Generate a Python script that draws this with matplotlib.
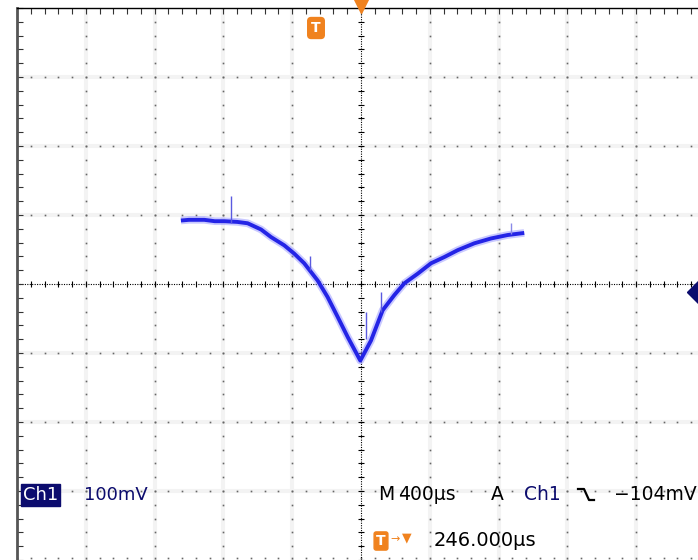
import numpy as np
import matplotlib.pyplot as plt
from matplotlib.lines import Line2D

# 파형 데이터 (시간 µs, 전압 mV) - 화면에서 읽은 값
t_trace = [-1047, -1000, -911, -850, -795, -720, -659, -581, -523, -446, -388, -330,
           -252, -194, -135, -77, -4, 58, 126, 194, 252, 330, 407, 484, 562, 659,
           756, 853, 949]
v_trace = [92, 93, 93, 91, 91, 90, 88, 79, 68, 56, 44, 30,
           5, -19, -48, -77, -111, -82, -38, -16, 1, 15, 30, 39, 49, 59,
           66, 71, 74]

# 노이즈 스파이크 (시간, 위, 아래)
spike_t = [-756, -297, 29, 116]
spike_top = [128, 41, -41, -11]
spike_bottom = [88, 20, -80, -41]
spike2_t = [872]
spike2_top = [89]
spike2_bottom = [72]

# 화면 설정
sec_per_div = 400   # µs
volt_per_div = 100  # mV
ch_label = 'Ch1'
scale_label = '100mV'
time_label = '400µs'
trig_level = '\u2212104mV'
trig_pos = '246.000µs'

orange = '#f0821e'
navy = '#0c0c6e'
blue = '#2424e6'

W, H = 698, 560
fig = plt.figure(figsize=(W / 100, H / 100), dpi=100)

# 화면 영역 (픽셀 기준: 왼쪽 17, 위 8, 한 칸 68.8 x 69)
left, top = 17, 8
ax = fig.add_axes([left / W, 0, 688 / W, (H - top) / H])
ax.set_xlim(-5 * sec_per_div, 5 * sec_per_div)
ax.set_ylim(-4 * volt_per_div, 4 * volt_per_div)
ax.set_facecolor('white')

# 눈금선 (점선)
xs_minor = np.arange(-5 * sec_per_div, 5 * sec_per_div + 1, sec_per_div / 5)
ys_minor = np.arange(-4 * volt_per_div, 4 * volt_per_div + 1, volt_per_div / 5)
for k in range(-4, 5):
    if k == 0:
        continue
    x = k * sec_per_div
    ax.axvline(x, color='#f3f3f3', lw=3, zorder=0)
    ax.plot(np.full_like(ys_minor, x), ys_minor, ls='none', marker='s', ms=1.2,
            color='#666666', mew=0, zorder=1)
for k in range(-3, 4):
    if k == 0:
        continue
    y = k * volt_per_div
    ax.axhline(y, color='#f3f3f3', lw=3, zorder=0)
    ax.plot(xs_minor, np.full_like(xs_minor, y), ls='none', marker='s', ms=1.2,
            color='#666666', mew=0, zorder=1)
# 아래쪽 경계 점
ax.plot(xs_minor, np.full_like(xs_minor, -4 * volt_per_div + 3), ls='none',
        marker='s', ms=1.2, color='#666666', mew=0, zorder=1)

# 중심축
ax.axhline(0, color='black', lw=0.8, ls=(0, (1, 1.2)), zorder=1)
ax.axvline(0, color='black', lw=0.8, ls=(0, (1, 1.2)), zorder=1)
ax.plot(xs_minor, np.zeros_like(xs_minor), ls='none', marker='|', ms=5,
        mew=0.8, color='black', zorder=1)
ax.plot(np.zeros_like(ys_minor), ys_minor, ls='none', marker='_', ms=5,
        mew=0.8, color='black', zorder=1)

# 테두리
for s in ['right', 'bottom']:
    ax.spines[s].set_visible(False)
ax.spines['top'].set_linestyle((0, (1, 1)))
ax.spines['top'].set_linewidth(1)
ax.spines['left'].set_color('#555555')
ax.spines['left'].set_linewidth(2)
ax.set_xticks(xs_minor)
ax.set_yticks(ys_minor)
ax.tick_params(axis='both', direction='in', length=4, width=0.8, color='#333333',
               labelbottom=False, labelleft=False, bottom=False, top=True,
               left=True, right=False)

# 파형
ax.plot(t_trace, v_trace, color='#8888ff', lw=5.5, alpha=0.45,
        solid_capstyle='butt', zorder=3)
ax.plot(t_trace, v_trace, color=blue, lw=2.8, solid_capstyle='butt', zorder=4)
ax.vlines(spike_t, spike_bottom, spike_top, color='#5a5ae0', lw=1, zorder=4)
ax.vlines(spike2_t, spike2_bottom, spike2_top, color='#8a8ae8', lw=1, zorder=4)

# 마커: 위쪽 확장점, 오른쪽 트리거 레벨
ax.plot([0], [4 * volt_per_div + 3], marker='v', ms=10, color=orange,
        clip_on=False, zorder=6)
ax.plot([1971], [-12], marker='D', ms=13, color=navy, clip_on=False, zorder=6)


def px(x, y):
    return x / W, 1 - y / H


# 위쪽 트리거 위치 아이콘
fig.text(*px(316, 28), 'T', color='white', fontsize=10, fontweight='bold',
         ha='center', va='center',
         bbox=dict(boxstyle='round,pad=0.25', fc=orange, ec=orange))

# 아래쪽 상태 표시
fig.text(*px(23, 495), ch_label, color='white', fontsize=13, ha='left', va='center',
         bbox=dict(boxstyle='square,pad=0.12', fc=navy, ec=navy))
fig.text(*px(84, 495), scale_label, color=navy, fontsize=13, ha='left', va='center')

fig.text(*px(378, 495), 'M', color='black', fontsize=13.5, ha='left', va='center')
fig.text(*px(398, 495), time_label, color='black', fontsize=13.5, ha='left', va='center')
fig.text(*px(491, 495), 'A', color='black', fontsize=13.5, ha='left', va='center')
fig.text(*px(524, 495), ch_label, color=navy, fontsize=13.5, ha='left', va='center')
edge = Line2D([578 / W, 584 / W, 589 / W, 594 / W],
              [1 - 489 / H, 1 - 489 / H, 1 - 500 / H, 1 - 500 / H],
              color='black', lw=1.6, transform=fig.transFigure)
fig.add_artist(edge)
fig.text(*px(697, 495), trig_level, color='black', fontsize=13.5, ha='right', va='center')

fig.text(*px(381, 541), 'T', color='white', fontsize=10, fontweight='bold',
         ha='center', va='center',
         bbox=dict(boxstyle='round,pad=0.15', fc=orange, ec=orange))
fig.text(*px(395, 539), '\u2192', color=orange, fontsize=8, ha='center', va='center')
fig.text(*px(407, 538), '\u25BC', color=orange, fontsize=9, ha='center', va='center')
fig.text(*px(434, 540), trig_pos, color='black', fontsize=14, ha='left', va='center')

plt.savefig('out.png', dpi=100)
